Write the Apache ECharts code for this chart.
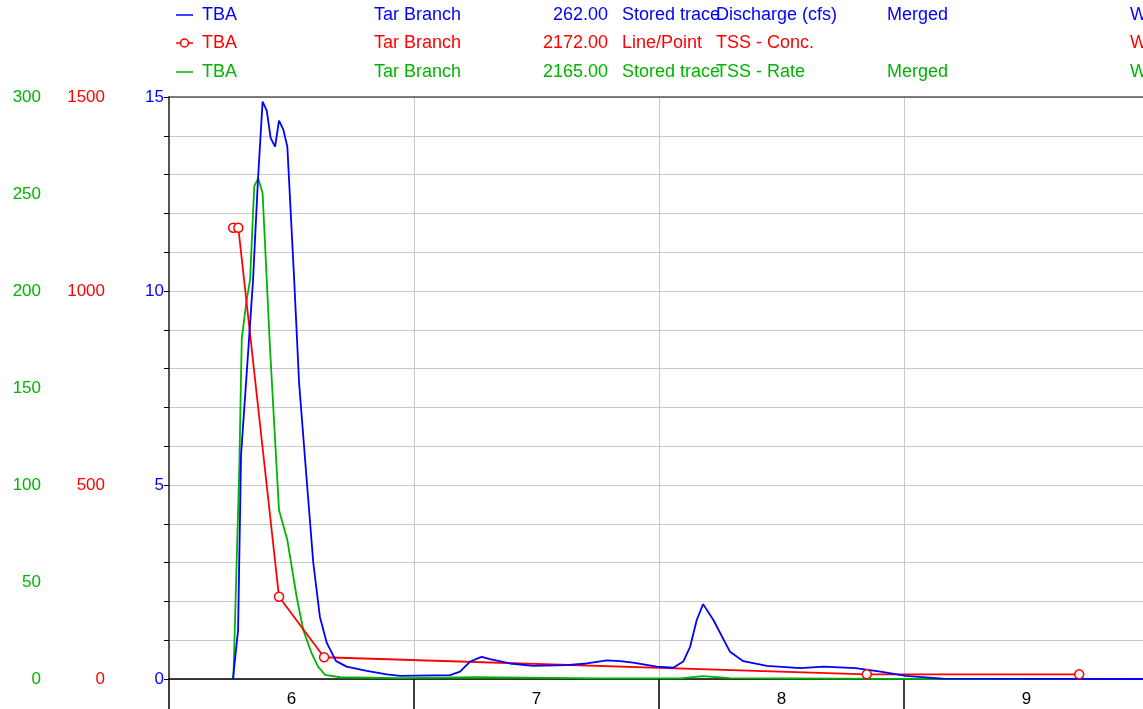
<!DOCTYPE html>
<html>
<head>
<meta charset="utf-8">
<script src="https://cdn.jsdelivr.net/npm/echarts@6/dist/echarts.min.js"></script>
<style>
    html, body { margin: 0; padding: 0; background: #fff; }
    #chart { width: 1143px; height: 709px; }
</style>
</head>
<body>
<div id="chart"></div>
<script>
// discharge (cfs), blue
var flowTime = [6.261, 6.282, 6.294, 6.318, 6.343, 6.363, 6.382, 6.399, 6.415, 6.433, 6.449, 6.467, 6.483,
    6.511, 6.531, 6.562, 6.589, 6.616, 6.644, 6.682, 6.725, 6.807, 6.889, 6.943, 7.147, 7.188, 7.229, 7.276,
    7.310, 7.392, 7.486, 7.623, 7.705, 7.787, 7.841, 7.894, 7.991, 8.058, 8.099, 8.127, 8.154, 8.180, 8.222,
    8.290, 8.344, 8.440, 8.576, 8.673, 8.802, 8.904, 9.007, 9.159, 9.98];
var flowValue = [0, 1.26, 5.77, 7.96, 10.28, 12.86, 14.88, 14.65, 13.94, 13.72, 14.39, 14.15, 13.72,
    10.28, 7.63, 5.13, 2.99, 1.60, 0.93, 0.46, 0.32, 0.21, 0.12, 0.08, 0.10, 0.19, 0.45, 0.57,
    0.51, 0.40, 0.34, 0.36, 0.40, 0.48, 0.46, 0.42, 0.32, 0.29, 0.45, 0.83, 1.52, 1.93, 1.52,
    0.70, 0.46, 0.34, 0.28, 0.32, 0.28, 0.19, 0.08, 0.01, 0];

// TSS concentration, red points
var concTime = [6.262, 6.283, 6.449, 6.633, 8.848, 9.715];
var concValue = [1163, 1163, 212, 56, 12, 12];

// TSS rate, green
var rateTime = [6.263, 6.287, 6.297, 6.317, 6.331, 6.348, 6.364, 6.382, 6.399, 6.412, 6.433, 6.449, 6.483,
    6.521, 6.548, 6.582, 6.609, 6.637, 6.698, 6.943, 7.256, 7.759, 8.086, 8.180, 8.290, 8.984, 9.98];
var rateValue = [0.5, 109.4, 175.6, 195.4, 205.7, 254.1, 258.1, 250.4, 205.7, 171.3, 123.2, 87.1, 71.6,
    42.4, 25.3, 13.3, 6.3, 2.1, 0.9, 0.4, 0.9, 0.3, 0.3, 1.5, 0.5, 0.1, 0];

// legend table rows
var legendSite = ['TBA', 'TBA', 'TBA'];
var legendName = ['Tar Branch', 'Tar Branch', 'Tar Branch'];
var legendNumber = ['262.00', '2172.00', '2165.00'];
var legendKind = ['Stored trace', 'Line/Point', 'Stored trace'];
var legendParam = ['Discharge (cfs)', 'TSS - Conc.', 'TSS - Rate'];
var legendSource = ['Merged', '', 'Merged'];
var legendLast = ['W', 'W', 'W'];

var BLUE = '#0000ff', RED = '#ff0000', GREEN = '#00b400';
var colors = [BLUE, RED, GREEN];
var FONT = '18px "Liberation Sans", Arial, sans-serif';
var XMAX = 6 + (1145 - 169) / 245;   // plot runs just past the right edge

function zip(a, b) {
    return a.map(function (v, i) { return [v, b[i]]; });
}

var graphics = [];
var rowY = [15, 43, 72];
for (var i = 0; i < 3; i++) {
    var y = rowY[i], c = colors[i];
    graphics.push({ type: 'line', shape: { x1: 176, y1: y, x2: 193, y2: y }, style: { stroke: c, lineWidth: 1.5 } });
    if (i === 1) {
        graphics.push({ type: 'circle', shape: { cx: 184.5, cy: y, r: 4 }, style: { fill: '#fff', stroke: c, lineWidth: 1.5 } });
    }
    var cols = [
        [legendSite[i], 202, 'left'],
        [legendName[i], 374, 'left'],
        [legendNumber[i], 608, 'right'],
        [legendKind[i], 622, 'left'],
        [legendParam[i], 716, 'left'],
        [legendSource[i], 887, 'left'],
        [legendLast[i], 1130, 'left']
    ];
    cols.forEach(function (t) {
        graphics.push({
            type: 'text',
            style: { text: t[0], x: t[1], y: y, fill: c, font: FONT,
                textAlign: t[2], align: t[2], textVerticalAlign: 'middle', verticalAlign: 'middle' }
        });
    });
}

var chart = echarts.init(document.getElementById('chart'), null, { renderer: 'canvas' });
var option = {
    animation: false,
    textStyle: { fontFamily: '"Liberation Sans", Arial, sans-serif' },
    grid: { left: 169, right: -2, top: 97, bottom: 30, containLabel: false, outerBoundsMode: 'none' },
    graphic: graphics,
    xAxis: [
        {
            type: 'value', min: 6, max: XMAX, interval: 1, position: 'bottom',
            axisLine: { onZero: false, lineStyle: { color: '#000', width: 1.5 } },
            axisTick: { length: 30, lineStyle: { color: '#000', width: 1.5 } },
            axisLabel: { show: false },
            splitLine: { lineStyle: { color: '#c8c8c8', width: 1 } }
        },
        {
            type: 'value', min: 6, max: XMAX, interval: 0.5, position: 'bottom',
            axisLine: { show: false }, axisTick: { show: false }, splitLine: { show: false },
            axisLabel: {
                margin: 12, fontSize: 17, color: '#000',
                formatter: function (v) {
                    return Math.abs((v % 1) - 0.5) < 1e-6 ? String(Math.floor(v)) : '';
                }
            }
        },
        {
            type: 'value', min: 6, max: XMAX, position: 'top',
            axisLine: { show: true, onZero: false, lineStyle: { color: '#555', width: 1.5 } },
            axisTick: { show: false }, axisLabel: { show: false }, splitLine: { show: false }
        }
    ],
    yAxis: [
        {
            type: 'value', min: 0, max: 15, interval: 1, position: 'left', offset: 0,
            axisLine: { show: true, onZero: false, lineStyle: { color: '#555', width: 2 } },
            axisTick: { show: true, length: 5, lineStyle: { color: '#000' } },
            axisLabel: {
                margin: 5, fontSize: 17, color: BLUE,
                formatter: function (v) { return v % 5 === 0 ? String(v) : ''; }
            },
            splitLine: { lineStyle: { color: '#c8c8c8', width: 1 } }
        },
        {
            type: 'value', min: 0, max: 1500, interval: 500, position: 'left', offset: 56,
            axisLine: { show: false }, axisTick: { show: false }, splitLine: { show: false },
            axisLabel: { margin: 8, fontSize: 17, color: RED, formatter: function (v) { return String(v); } }
        },
        {
            type: 'value', min: 0, max: 300, interval: 50, position: 'left', offset: 120,
            axisLine: { show: false }, axisTick: { show: false }, splitLine: { show: false },
            axisLabel: { margin: 8, fontSize: 17, color: GREEN, formatter: function (v) { return String(v); } }
        }
    ],
    series: [
        {
            name: 'TSS - Rate', type: 'line', xAxisIndex: 0, yAxisIndex: 2,
            data: zip(rateTime, rateValue), showSymbol: false, symbol: 'none',
            lineStyle: { color: GREEN, width: 1.8 }
        },
        {
            name: 'TSS - Conc.', type: 'line', xAxisIndex: 0, yAxisIndex: 1,
            data: zip(concTime, concValue), symbol: 'circle', symbolSize: 9,
            itemStyle: { color: '#fff', borderColor: RED, borderWidth: 1.5 },
            lineStyle: { color: RED, width: 1.8 }
        },
        {
            name: 'Discharge (cfs)', type: 'line', xAxisIndex: 0, yAxisIndex: 0,
            data: zip(flowTime, flowValue), showSymbol: false, symbol: 'none',
            lineStyle: { color: BLUE, width: 1.8 }
        }
    ]
};
chart.setOption(option);
</script>
</body>
</html>
